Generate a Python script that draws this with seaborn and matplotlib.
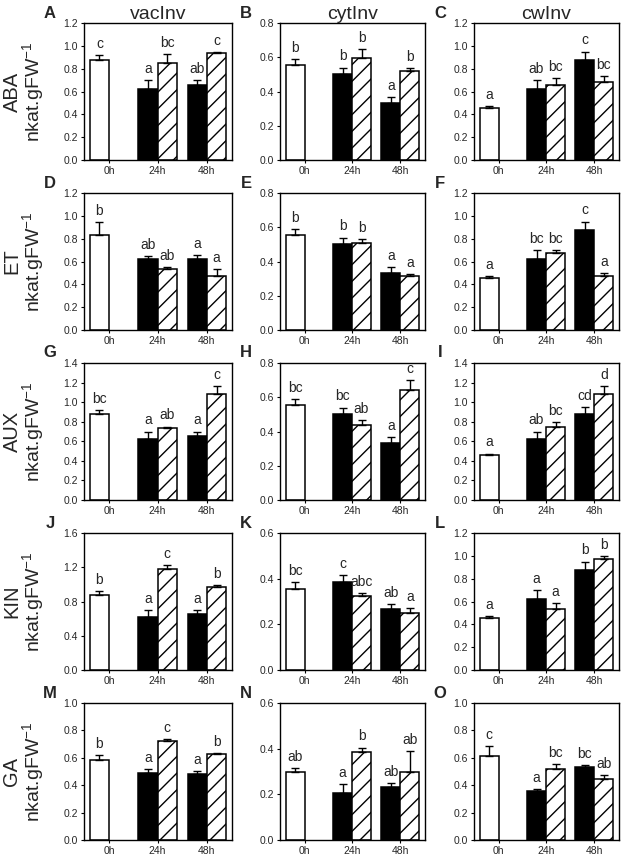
import numpy as np
import pandas as pd
import seaborn as sns
import matplotlib.pyplot as plt

hormones = ["ABA", "ET", "AUX", "KIN", "GA"]
enzymes = ["vacInv", "cytInv", "cwInv"]
panel_tags = [["A", "B", "C"], ["D", "E", "F"], ["G", "H", "I"], ["J", "K", "L"], ["M", "N", "O"]]
times = ["0h", "24h", "48h"]

# bar order in every panel: 0h, 24h control, 24h treated, 48h control, 48h treated
bar_kind = ["0h", "ctrl", "trt", "ctrl", "trt"]
bar_pos = [0.0, 2.5, 3.5, 5.05, 6.05]
tick_pos = [0.5, 3.0, 5.55]

# vacuolar invertase (rows = hormones)
vac_mean = [[0.88, 0.62, 0.85, 0.655, 0.935],
            [0.835, 0.62, 0.535, 0.625, 0.475],
            [0.88, 0.62, 0.735, 0.655, 1.08],
            [0.88, 0.62, 1.18, 0.655, 0.975],
            [0.585, 0.49, 0.725, 0.48, 0.625]]
vac_se = [[0.04, 0.08, 0.08, 0.045, 0.01],
          [0.11, 0.03, 0.015, 0.03, 0.055],
          [0.04, 0.08, 0.015, 0.045, 0.08],
          [0.04, 0.08, 0.05, 0.045, 0.015],
          [0.035, 0.025, 0.015, 0.025, 0.01]]
vac_sig = [["c", "a", "bc", "ab", "c"],
           ["b", "ab", "ab", "a", "a"],
           ["bc", "a", "ab", "a", "c"],
           ["b", "a", "c", "a", "b"],
           ["b", "a", "c", "a", "b"]]

# cytosolic invertase
cyt_mean = [[0.555, 0.50, 0.595, 0.33, 0.52],
            [0.555, 0.50, 0.51, 0.33, 0.315],
            [0.555, 0.50, 0.44, 0.33, 0.64],
            [0.355, 0.385, 0.325, 0.268, 0.248],
            [0.30, 0.205, 0.385, 0.233, 0.297]]
cyt_se = [[0.035, 0.04, 0.055, 0.04, 0.015],
          [0.035, 0.04, 0.02, 0.04, 0.01],
          [0.035, 0.04, 0.025, 0.04, 0.06],
          [0.03, 0.03, 0.013, 0.022, 0.022],
          [0.015, 0.04, 0.02, 0.017, 0.093]]
cyt_sig = [["b", "b", "b", "a", "b"],
           ["b", "b", "b", "a", "a"],
           ["bc", "bc", "ab", "a", "c"],
           ["bc", "c", "abc", "ab", "a"],
           ["ab", "a", "b", "ab", "ab"]]

# cell wall invertase
cw_mean = [[0.455, 0.62, 0.66, 0.88, 0.68],
           [0.455, 0.62, 0.675, 0.88, 0.475],
           [0.455, 0.62, 0.75, 0.88, 1.08],
           [0.455, 0.62, 0.53, 0.88, 0.975],
           [0.61, 0.355, 0.515, 0.53, 0.445]]
cw_se = [[0.02, 0.08, 0.055, 0.07, 0.055],
         [0.02, 0.08, 0.025, 0.07, 0.025],
         [0.02, 0.08, 0.05, 0.07, 0.08],
         [0.02, 0.08, 0.055, 0.07, 0.02],
         [0.075, 0.02, 0.04, 0.02, 0.03]]
cw_sig = [["a", "ab", "bc", "c", "bc"],
          ["a", "bc", "bc", "c", "a"],
          ["a", "ab", "bc", "cd", "d"],
          ["a", "a", "a", "b", "b"],
          ["c", "a", "bc", "bc", "ab"]]

y_max = [[1.2, 0.8, 1.2], [1.2, 0.8, 1.2], [1.4, 0.8, 1.4], [1.6, 0.6, 1.2], [1.0, 0.6, 1.0]]
y_step = [[0.2, 0.2, 0.2], [0.2, 0.2, 0.2], [0.2, 0.2, 0.2], [0.4, 0.2, 0.2], [0.2, 0.2, 0.2]]

means = [vac_mean, cyt_mean, cw_mean]
ses = [vac_se, cyt_se, cw_se]
sigs = [vac_sig, cyt_sig, cw_sig]

sns.set_style("ticks")
plt.rcParams["font.family"] = ["Liberation Sans", "DejaVu Sans"]
plt.rcParams["hatch.linewidth"] = 1.0

W, H = 624, 861
fig = plt.figure(figsize=(W / 100, H / 100), dpi=100)
col_left = [84, 280, 474]
col_w = [148, 145, 145]
row_top = [23, 193, 363, 533, 703]
ax_h = 137

palette = {"0h": "white", "ctrl": "black", "trt": "white"}

for r, hormone in enumerate(hormones):
    for c, enzyme in enumerate(enzymes):
        left, top = col_left[c], row_top[r]
        ax = fig.add_axes([left / W, 1 - (top + ax_h) / H, col_w[c] / W, ax_h / H])
        m = means[c][r]
        s = ses[c][r]
        df = pd.DataFrame({"pos": bar_pos, "value": m, "kind": bar_kind})
        sns.barplot(data=df, x="pos", y="value", hue="kind", palette=palette,
                    native_scale=True, dodge=False, width=1.0, errorbar=None,
                    edgecolor="black", linewidth=1.1, legend=False, ax=ax)
        for p in ax.patches:
            cx = p.get_x() + p.get_width() / 2
            k = int(np.argmin(np.abs(np.array(bar_pos) - cx)))
            if bar_kind[k] == "trt":
                p.set_hatch("//")
        ax.errorbar(bar_pos, m, yerr=[np.zeros(5), s], fmt="none", ecolor="black",
                    elinewidth=1.0, capsize=3.2, capthick=1.0, zorder=5)
        ym = y_max[r][c]
        for x, v, e, lab in zip(bar_pos, m, s, sigs[c][r]):
            ax.text(x, v + e + ym * 0.03, lab, ha="center", va="bottom", fontsize=10)

        ax.set_xlim(-0.8, 6.85)
        ax.set_ylim(0, ym)
        yt = np.arange(0, ym + 1e-9, y_step[r][c])
        ax.set_yticks(yt, [f"{v:.1f}" for v in yt])
        ax.set_xticks(tick_pos, times)
        ax.set_xlabel("")
        ax.set_ylabel("")
        ax.tick_params(axis="both", length=2.5, width=0.8, labelsize=7.5, pad=2, color="black")
        for sp in ax.spines.values():
            sp.set_visible(True)
            sp.set_linewidth(1.0)
            sp.set_color("black")
        if r == 0:
            ax.set_title(enzyme, fontsize=14, pad=2)
        fig.text((left - 34) / W, 1 - (top - 10) / H, panel_tags[r][c],
                 fontsize=12, fontweight="bold", ha="center", va="center")
    yc = 1 - (row_top[r] + ax_h / 2) / H
    fig.text(12 / W, yc, hormone, rotation=90, fontsize=14.5, ha="center", va="center")
    fig.text(34 / W, yc, r"nkat.gFW$^{\mathregular{-1}}$", rotation=90, fontsize=14,
             ha="center", va="center")

fig.savefig("out.png", dpi=100)
